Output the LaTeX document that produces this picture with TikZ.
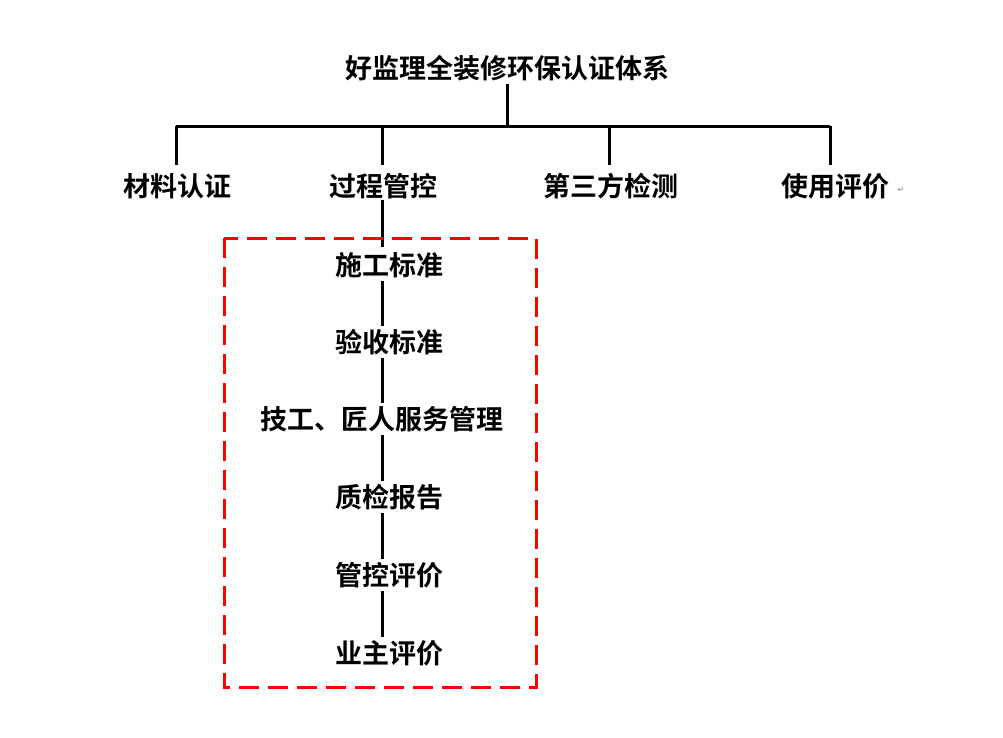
\documentclass[tikz,border=0pt]{standalone}
\usepackage{fontspec}
\newfontfamily\cjk{Noto Sans CJK SC}[BoldFont={* Bold}]
\newfontfamily\symfont{DejaVu Sans}
\begin{document}
\begin{tikzpicture}[x=1pt,y=1pt,
        every node/.style={font=\cjk\bfseries\fontsize{27}{30}\selectfont, inner sep=3pt},
        link/.style={draw, line width=3pt},
    ]
    \useasboundingbox[fill=white] (0,0) rectangle (1003,-737);
    \node (root) at (507,-68) {好监理全装修环保认证体系};
    \node (mat) at (177,-186) {材料认证};
    \node (proc) at (383,-186) {过程管控};
    \node (test) at (611,-186) {第三方检测};
    \node (use) at (835,-186) {使用评价};
    \node[font=\symfont\fontsize{8}{8}\selectfont, text=gray, inner sep=0pt] (mark) at (901,-190) {↵};
    \coordinate (bus) at (507,-126);
    \draw[link] (root) -- (bus);
    \draw[link] (176,-126) -- (830,-126);
    \foreach \n/\x in {mat/176, proc/382, test/609, use/830}
        \draw[link] (\x,-126) -- (\x,-165);
    % chain inside the box
    \node (s1) at (389,-265) {施工标准};
    \node (s2) at (389,-342) {验收标准};
    \node (s3) at (382,-419) {技工、匠人服务管理};
    \node (s4) at (389,-497) {质检报告};
    \node (s5) at (389,-575) {管控评价};
    \node (s6) at (389,-653) {业主评价};
    \draw[link] (382,-200) -- (382,-247);
    \foreach \a/\b in {s1/s2, s2/s3, s3/s4, s4/s5, s5/s6}
        \draw[link] (382,0 |- \a.south) -- (382,0 |- \b.north);
    \draw[red, line width=3pt, dash pattern=on 20pt off 9pt] (224,-238) rectangle (536,-687);
\end{tikzpicture}
\end{document}
